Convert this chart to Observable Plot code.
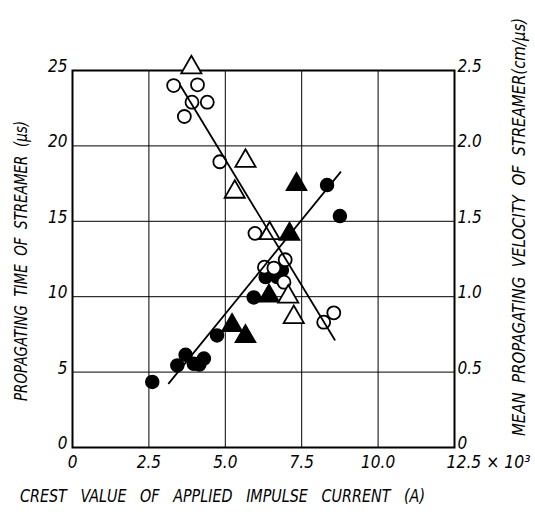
<!DOCTYPE html>
<html>
<head>
<meta charset="utf-8">
<script src="https://cdn.jsdelivr.net/npm/d3@7"></script>
<script src="https://cdn.jsdelivr.net/npm/@observablehq/plot@0.6"></script>
<style>
  body { margin: 0; background: #fff; }
  #chart svg { font-family: "DejaVu Sans Condensed", "Liberation Sans Narrow", "DejaVu Sans", sans-serif; font-style: italic; }
  #chart svg text { white-space: pre; }
</style>
</head>
<body>
<div id="chart"></div>
<script>
// Crest current in units of 10^3 A, propagating time in µs
const openCircleX = [3.31, 4.09, 3.91, 4.41, 3.66, 4.82, 5.97, 6.28, 6.59, 6.96, 6.92, 8.22, 8.55];
const openCircleY = [24.0, 24.05, 22.9, 22.9, 21.95, 18.95, 14.2, 11.96, 11.9, 12.45, 10.96, 8.31, 8.93];

const openTriangleX = [3.89, 5.66, 5.31, 6.45, 7.06, 7.24];
const openTriangleY = [25.2, 19.0, 16.95, 14.2, 10.0, 8.64];

const filledCircleX = [8.33, 8.75, 5.93, 6.32, 6.70, 6.85, 4.73, 3.43, 3.70, 3.97, 4.30, 4.15, 2.61];
const filledCircleY = [17.4, 15.35, 9.95, 11.3, 11.3, 11.75, 7.43, 5.44, 6.15, 5.55, 5.9, 5.5, 4.35];

const filledTriangleX = [7.33, 7.10, 6.43, 5.22, 5.66];
const filledTriangleY = [17.45, 14.15, 10.05, 8.1, 7.36];

// Fitted lines (end points)
const openFitX = [3.53, 8.58];
const openFitY = [24.0, 7.14];
const filledFitX = [3.15, 8.77];
const filledFitY = [4.25, 18.26];

const xTicks = [0, 2.5, 5, 7.5, 10];
const xTickLabels = ["0", "2.5", "5.0", "7.5", "10.0"];
const xEndTick = [12.5];
const xEndLabel = "12.5 × 10³";
const yTicks = [0, 5, 10, 15, 20, 25];
const yRightLabels = ["0", "0.5", "1.0", "1.5", "2.0", "2.5"];

const leftTitle = "PROPAGATING  TIME  OF  STREAMER  (μs)";
const rightTitle = "MEAN  PROPAGATING  VELOCITY  OF  STREAMER(cm/μs)";
const bottomTitle = "CREST   VALUE   OF   APPLIED   IMPULSE   CURRENT   (A)";

const zip = (xs, ys) => xs.map((x, i) => ({x, y: ys[i]}));

const chart = Plot.plot({
  width: 535,
  height: 519,
  marginLeft: 72,
  marginRight: 81,
  marginTop: 70,
  marginBottom: 72,
  x: {domain: [0, 12.5]},
  y: {domain: [0, 25]},
  style: {fontSize: "16px", color: "#000", background: "#fff"},
  marks: [
    Plot.gridX(xTicks.concat(xEndTick), {stroke: "#000", strokeOpacity: 1, strokeWidth: 1}),
    Plot.gridY(yTicks, {stroke: "#000", strokeOpacity: 1, strokeWidth: 1}),
    Plot.frame({stroke: "#000", strokeWidth: 2}),
    Plot.dot(zip(filledCircleX, filledCircleY), {x: "x", y: "y", r: 6.5, fill: "#000", stroke: "#000"}),
    Plot.dot(zip(filledTriangleX, filledTriangleY), {x: "x", y: "y", r: 7.5, symbol: "triangle", fill: "#000", stroke: "#000"}),
    Plot.dot(zip(openCircleX, openCircleY), {x: "x", y: "y", r: 6.5, fill: "#fff", stroke: "#000", strokeWidth: 1.8}),
    Plot.dot(zip(openTriangleX, openTriangleY), {x: "x", y: "y", r: 7.5, symbol: "triangle", fill: "#fff", stroke: "#000", strokeWidth: 1.8}),
    Plot.line(zip(openFitX, openFitY), {x: "x", y: "y", stroke: "#000", strokeWidth: 1.8}),
    Plot.line(zip(filledFitX, filledFitY), {x: "x", y: "y", stroke: "#000", strokeWidth: 1.8}),
    Plot.axisX(xTicks, {tickSize: 0, tickPadding: 8, tickFormat: (d, i) => xTickLabels[i], fontSize: 17, label: null}),
    Plot.axisX(xEndTick, {tickSize: 0, tickPadding: 8, tickFormat: () => xEndLabel, textAnchor: "start", dx: -8, fontSize: 17, label: null, className: "end-tick"}),
    Plot.axisY(yTicks, {anchor: "left", tickSize: 0, tickPadding: 5, dy: -4, fontSize: 17, label: null}),
    Plot.axisY(yTicks, {anchor: "right", tickSize: 0, tickPadding: 3, dy: -4, tickFormat: (d, i) => yRightLabels[i], fontSize: 17, label: null}),
    Plot.text([leftTitle], {frameAnchor: "left", textAnchor: "middle", rotate: -90, dx: -51, dy: 2, fontSize: 18, className: "title-left"}),
    Plot.text([rightTitle], {frameAnchor: "right", textAnchor: "middle", rotate: -90, dx: 65, dy: -32, fontSize: 17, className: "title-right"}),
    Plot.text([bottomTitle], {frameAnchor: "bottom", textAnchor: "middle", dx: -41, dy: 54, fontSize: 18, className: "title-bottom"})
  ]
});

// Condensed hand-lettered texts: fit each to its run length
const fit = (cls, len) => d3.select(chart).selectAll(`.${cls} text`)
  .attr("textLength", len).attr("lengthAdjust", "spacingAndGlyphs");
fit("title-left", 280);
fit("title-right", 418);
fit("title-bottom", 405);
fit("end-tick", 84);

document.getElementById("chart").appendChild(chart);
</script>
</body>
</html>
